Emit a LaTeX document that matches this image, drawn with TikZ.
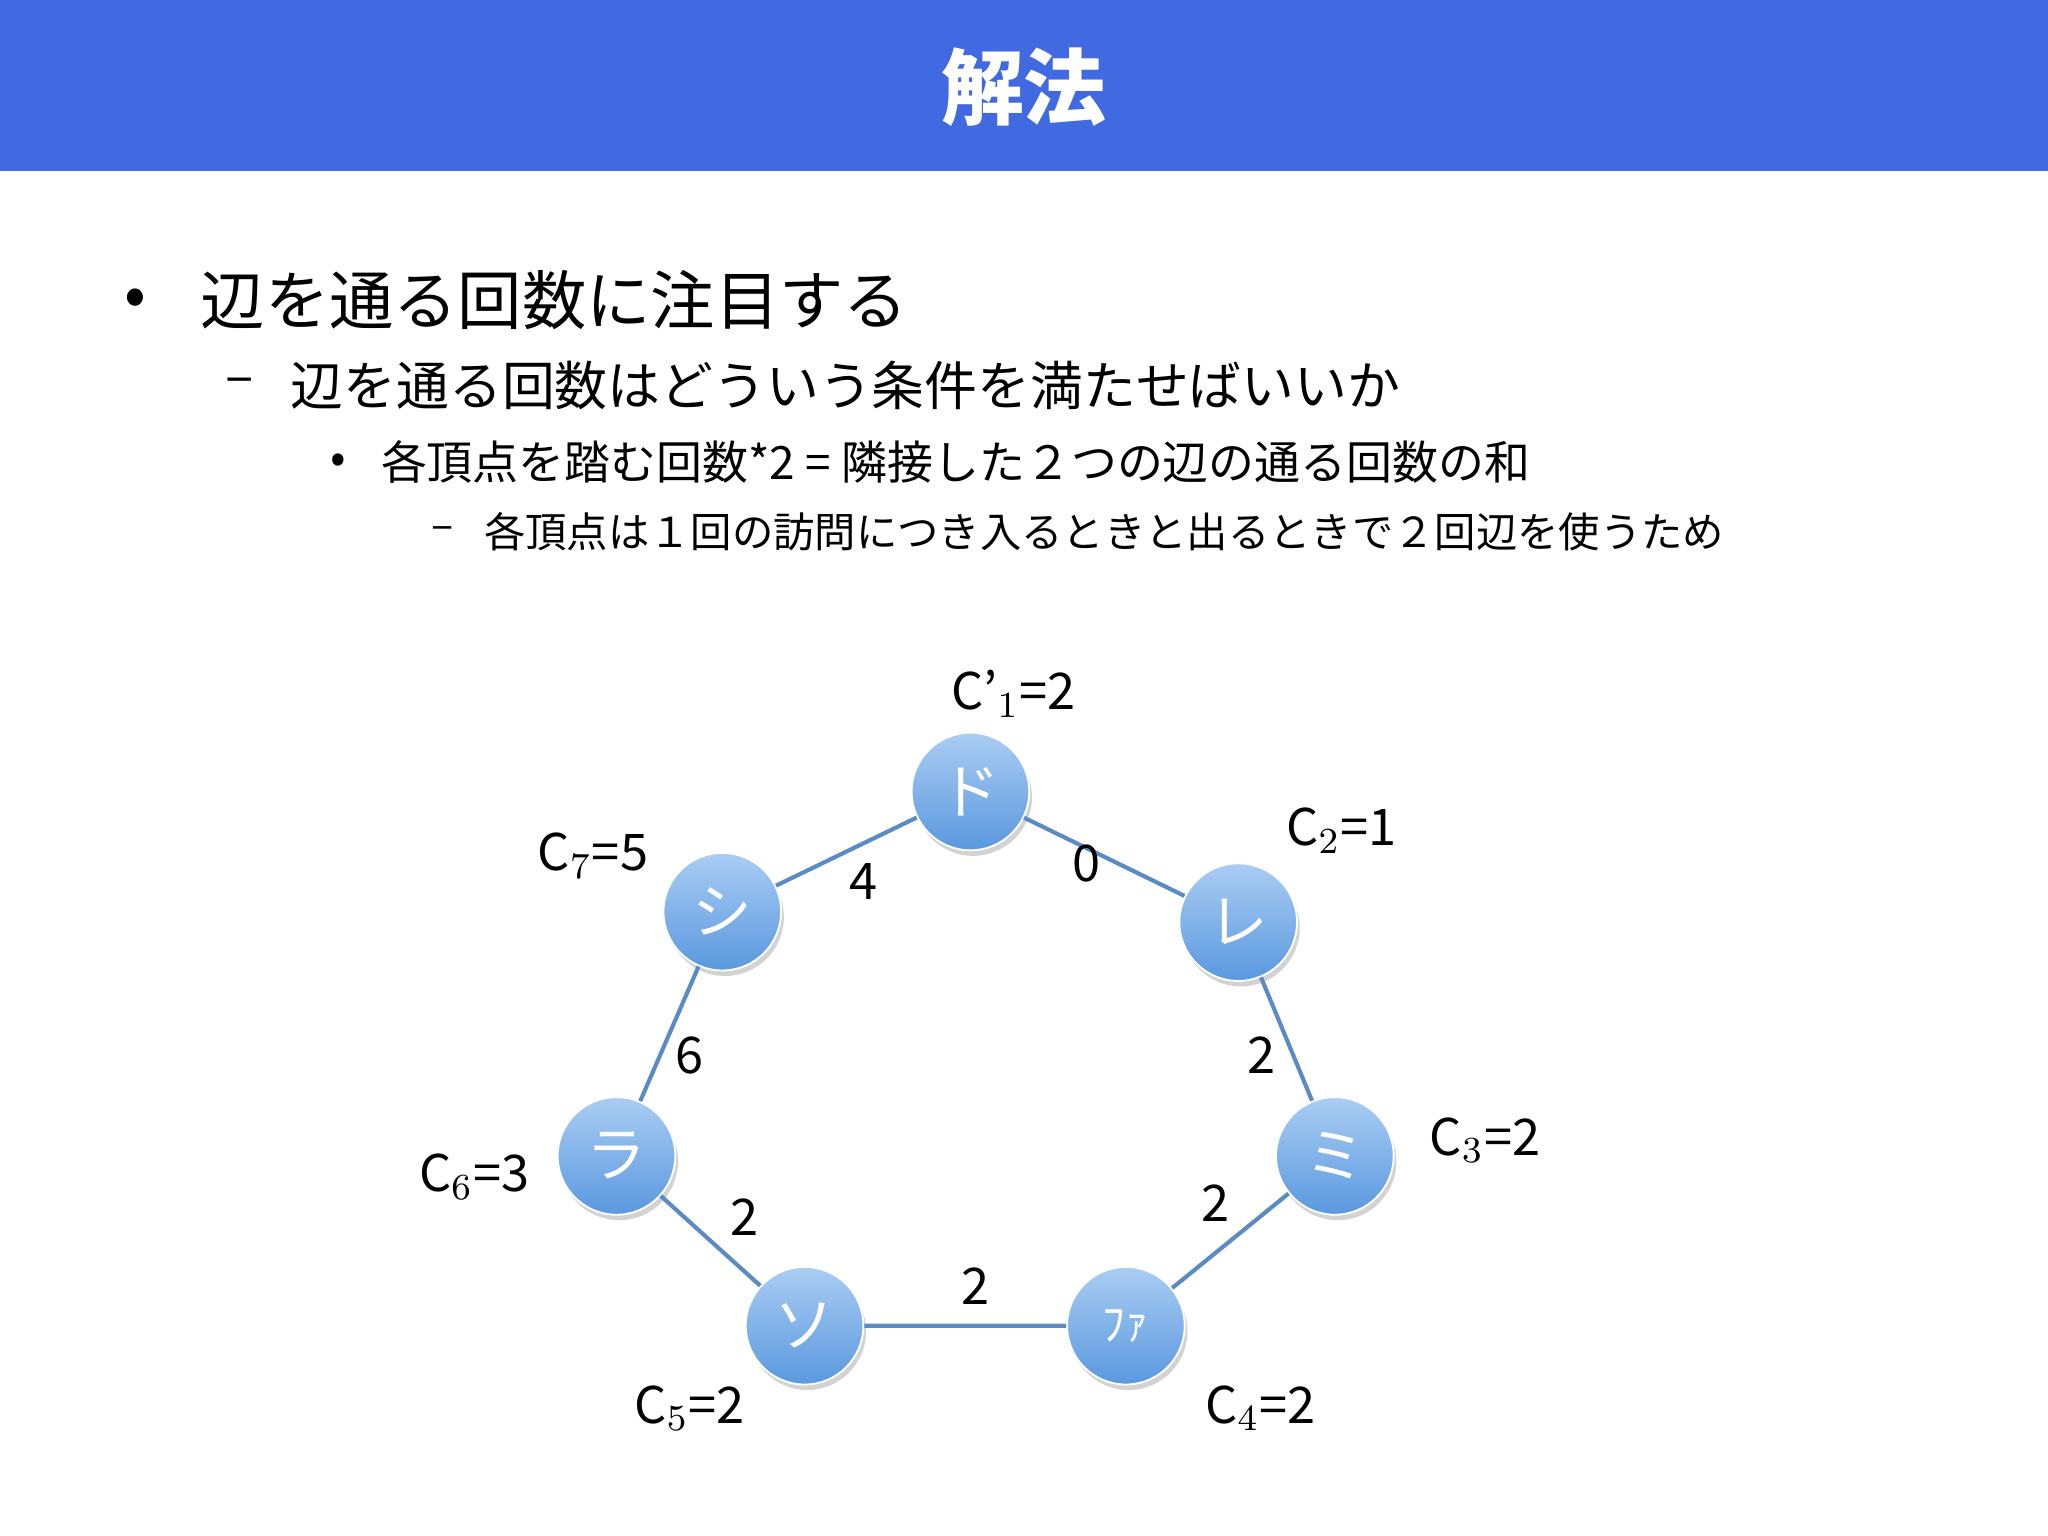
\documentclass[tikz,border=0pt]{standalone}
\usepackage{fontspec}
\setmainfont{Noto Sans CJK JP}
\usetikzlibrary{shadows}
\definecolor{hdr}{HTML}{4169E1}
\definecolor{edgec}{HTML}{5B8BC4}
\definecolor{ctop}{HTML}{AACDF3}
\definecolor{cbot}{HTML}{5A98DF}
\begin{document}
\begin{tikzpicture}[x=0.01cm,y=-0.01cm,
  vtx/.style={circle,minimum size=0.9cm,inner sep=0pt,top color=ctop,bottom color=cbot,draw=white,line width=0.4pt,drop shadow={opacity=0.35,shadow xshift=0.6pt,shadow yshift=-1.2pt},text=white,font=\fontsize{13}{13}\selectfont},
  ed/.style={draw=edgec,line width=0.9pt},
  lab/.style={font=\fontsize{11}{11}\selectfont,inner sep=0pt},
  tx/.style={anchor=west,inner sep=0pt}]
\useasboundingbox (0,0) rectangle (1568,1176);
\fill[hdr] (0,0) rectangle (1568,131);
\node[text=white,font=\bfseries\fontsize{18}{18}\selectfont] (title) at (784,67) {解法};
\node[tx,font=\fontsize{14}{14}\selectfont] (b1d) at (95,232) {•};
\node[tx,font=\fontsize{14}{14}\selectfont] (b1) at (153,230) {辺を通る回数に注目する};
\node[tx,font=\fontsize{11.5}{11.5}\selectfont] (b2d) at (172,296) {–};
\node[tx,font=\fontsize{11.5}{11.5}\selectfont] (b2) at (222,295) {辺を通る回数はどういう条件を満たせばいいか};
\node[tx,font=\fontsize{10}{10}\selectfont] (b3d) at (252,355) {•};
\node[tx,font=\fontsize{10}{10}\selectfont] (b3) at (291,354) {各頂点を踏む回数*2 = 隣接した２つの辺の通る回数の和};
\node[tx,font=\fontsize{9}{9}\selectfont] (b4d) at (330,408) {–};
\node[tx,font=\fontsize{9}{9}\selectfont] (b4) at (370,407) {各頂点は１回の訪問につき入るときと出るときで２回辺を使うため};
\node[vtx] (do) at (743,606) {ド};
\node[vtx] (re) at (948,706) {レ};
\node[vtx] (mi) at (1022,885) {ミ};
\node[vtx] (fa) at (862,1015) {\fontsize{10}{10}\selectfont ﾌｧ};
\node[vtx] (so) at (616,1015) {ソ};
\node[vtx] (ra) at (472,885) {ラ};
\node[vtx] (si) at (553,698) {シ};
\begin{scope}[on background layer/.style={}]
\end{scope}
\draw[ed] (do)--(re) (re)--(mi) (mi)--(fa) (fa)--(so) (so)--(ra) (ra)--(si) (si)--(do);
\node[lab] (e1) at (661,675) {4};
\node[lab] (e2) at (832,661) {0};
\node[lab] (e3) at (966,808) {2};
\node[lab] (e4) at (931,921) {2};
\node[lab] (e5) at (747,985) {2};
\node[lab] (e6) at (570,932) {2};
\node[lab] (e7) at (528,808) {6};
\node[lab] (c1) at (776,531) {C’$_1$=2};
\node[lab] (c2) at (1027,636) {C$_2$=1};
\node[lab] (c3) at (1137,873) {C$_3$=2};
\node[lab] (c4) at (965,1078) {C$_4$=2};
\node[lab] (c5) at (528,1078) {C$_5$=2};
\node[lab] (c6) at (363,901) {C$_6$=3};
\node[lab] (c7) at (454,655) {C$_7$=5};
\end{tikzpicture}
\end{document}
